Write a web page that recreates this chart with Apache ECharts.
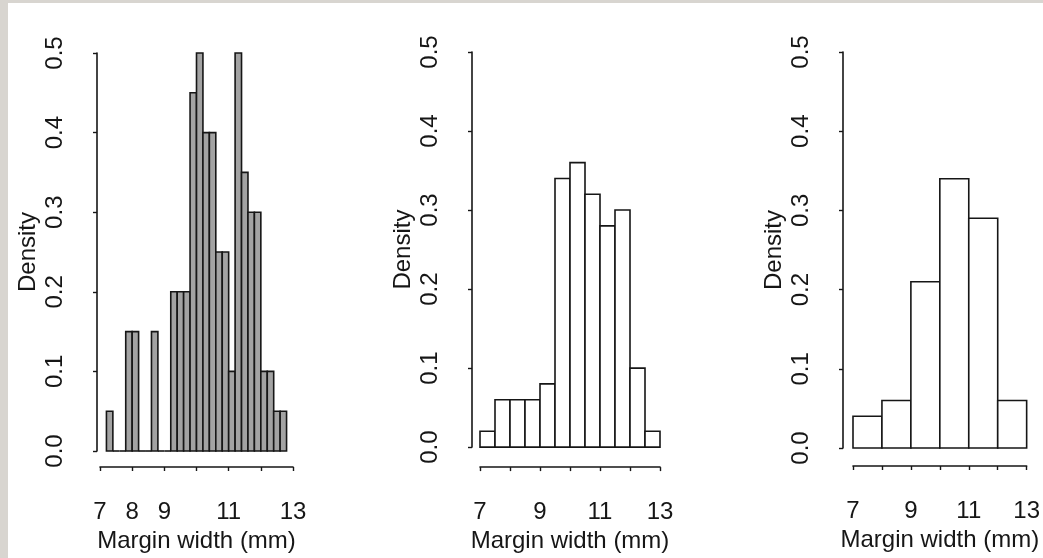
<!DOCTYPE html>
<html>
<head>
<meta charset="utf-8">
<script src="https://cdn.jsdelivr.net/npm/echarts@6/dist/echarts.min.js"></script>
<style>
  html, body { margin: 0; padding: 0; background: #d8d5d0; }
  body { width: 1043px; height: 558px; position: relative; overflow: hidden; }
  #chart { position: absolute; left: 8px; top: 3px; width: 1035px; height: 555px; background: #ffffff; }
</style>
</head>
<body>
<div id="chart"></div>
<script>
// Margin width (mm): three density histograms of the same sample, different bin widths.

// Panel 1: bin width 0.2 mm
const edges1 = [7.2, 7.4, 7.6, 7.8, 8.0, 8.2, 8.4, 8.6, 8.8, 9.0, 9.2, 9.4, 9.6, 9.8, 10.0,
                10.2, 10.4, 10.6, 10.8, 11.0, 11.2, 11.4, 11.6, 11.8, 12.0, 12.2, 12.4, 12.6, 12.8];
const density1 = [0.05, 0, 0, 0.15, 0.15, 0, 0, 0.15, 0, 0, 0.2, 0.2, 0.2, 0.45,
                  0.5, 0.4, 0.4, 0.25, 0.25, 0.1, 0.5, 0.35, 0.3, 0.3, 0.1, 0.1, 0.05, 0.05];

// Panel 2: bin width 0.5 mm
const edges2 = [7, 7.5, 8, 8.5, 9, 9.5, 10, 10.5, 11, 11.5, 12, 12.5, 13];
const density2 = [0.02, 0.06, 0.06, 0.06, 0.08, 0.34, 0.36, 0.32, 0.28, 0.30, 0.10, 0.02];

// Panel 3: bin width 1 mm
const edges3 = [7, 8, 9, 10, 11, 12, 13];
const density3 = [0.04, 0.06, 0.21, 0.34, 0.29, 0.06];

// Tick labels printed on each x axis (ticks are drawn at every integer)
const xTickLabels1 = ['7', '8', '9', '11', '13'];
const xTickLabels2 = ['7', '9', '11', '13'];
const xTickLabels3 = ['7', '9', '11', '13'];

const xName = 'Margin width (mm)';
const yName = 'Density';

const FONT = '"Liberation Sans", Arial, sans-serif';
const INK = '#161616';
const FS = 24;

function binData(edges, dens) {
  return dens.map((d, i) => [edges[i], edges[i + 1], d]);
}

function renderBins(fill) {
  return function (params, api) {
    const p0 = api.coord([api.value(0), 0]);
    const p1 = api.coord([api.value(1), api.value(2)]);
    if (p0[1] - p1[1] < 0.5) {
      // empty bin: only its base is drawn
      return {
        type: 'line',
        shape: { x1: p0[0], y1: p0[1], x2: p1[0], y2: p0[1] },
        style: { stroke: INK, lineWidth: 1.6 }
      };
    }
    return {
      type: 'rect',
      shape: { x: p0[0], y: p1[1], width: p1[0] - p0[0], height: p0[1] - p1[1] },
      style: { fill: fill, stroke: INK, lineWidth: 1.6 }
    };
  };
}

// layout of each panel (container pixels)
const panels = [
  { left: 92,  top: 50, width: 193, height: 398, xOff: 16, yOff: 3,  labels: xTickLabels1, fill: '#a3a3a3', edges: edges1, dens: density1 },
  { left: 472, top: 49, width: 180, height: 396, xOff: 20, yOff: 8,  labels: xTickLabels2, fill: '#ffffff', edges: edges2, dens: density2 },
  { left: 845, top: 49, width: 180, height: 396, xOff: 18, yOff: 10, labels: xTickLabels3, fill: '#ffffff', edges: edges3, dens: density3 }
];

const axisTick = { show: true, length: 4, lineStyle: { color: INK, width: 1.4 } };

const option = {
  animation: false,
  backgroundColor: '#ffffff',
  grid: panels.map(p => ({ left: p.left, top: p.top, width: p.width, height: p.height })),
  xAxis: panels.map((p, i) => ({
    type: 'value', gridIndex: i, min: 7, max: 13, interval: 1,
    position: 'bottom', offset: p.xOff,
    axisLine: { show: true, onZero: false, lineStyle: { color: INK, width: 1.6 } },
    axisTick: axisTick, splitLine: { show: false },
    axisLabel: {
      show: true, margin: 33, color: INK, fontFamily: FONT, fontSize: FS,
      showMinLabel: true, showMaxLabel: true, hideOverlap: false,
      formatter: v => (p.labels.indexOf(String(v)) >= 0 ? String(v) : '')
    },
    name: xName, nameLocation: 'middle', nameGap: 60,
    nameTextStyle: { color: INK, fontFamily: FONT, fontSize: FS }
  })),
  yAxis: panels.map((p, i) => ({
    type: 'value', gridIndex: i, min: 0, max: 0.5, interval: 0.1,
    position: 'left', offset: p.yOff,
    axisLine: { show: true, onZero: false, lineStyle: { color: INK, width: 1.6 } },
    axisTick: axisTick, splitLine: { show: false },
    axisLabel: {
      show: true, rotate: 90, margin: 30, color: INK, fontFamily: FONT, fontSize: FS,
      showMinLabel: true, showMaxLabel: true,
      formatter: v => v.toFixed(1)
    },
    name: yName, nameLocation: 'middle', nameRotate: 90, nameGap: 57,
    nameTextStyle: { color: INK, fontFamily: FONT, fontSize: FS }
  })),
  series: panels.map((p, i) => ({
    type: 'custom', xAxisIndex: i, yAxisIndex: i,
    renderItem: renderBins(p.fill),
    encode: { x: [0, 1], y: 2 },
    data: binData(p.edges, p.dens),
    clip: false
  }))
};

const chart = echarts.init(document.getElementById('chart'), null, { renderer: 'canvas' });
chart.setOption(option);
</script>
</body>
</html>
